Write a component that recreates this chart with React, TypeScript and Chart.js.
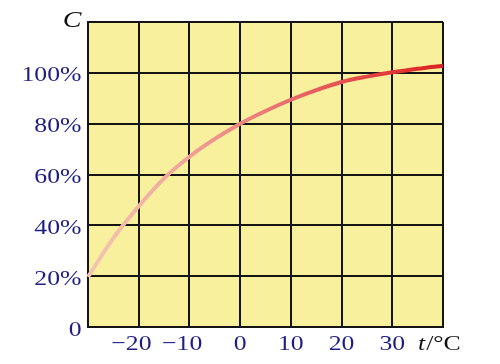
import React, { useEffect, useRef } from 'react';
import { Chart, registerables } from 'chart.js';

Chart.register(...registerables);

// Data
const temperatures = [-30, -25, -20, -15, -10, -5, 0, 5, 10, 15, 20, 25, 30, 35, 40];
const capacity = [19.7, 35, 47.5, 58.5, 67, 74, 80, 85, 89.4, 93.2, 96.4, 98.5, 100.2, 101.6, 102.8];

const tempTicks = [-20, -10, 0, 10, 20, 30];
const tempTickLabels = ['−20', '−10', '0', '10', '20', '30'];
const percentTicks = [0, 20, 40, 60, 80, 100];
const percentTickLabels = ['0', '20%', '40%', '60%', '80%', '100%'];

const yAxisTitle = 'C';
const xAxisTitleItalic = 't';
const xAxisTitleRest = '/°C';

const FONT_FAMILY = '"Liberation Serif", "Times New Roman", serif';
const LABEL_COLOR = '#1d1d84';
const STRETCH = 1.17;

function drawStretched(ctx: CanvasRenderingContext2D, text: string, x: number, y: number, align: 'left' | 'right' | 'center') {
  const w = ctx.measureText(text).width * STRETCH;
  let left = x;
  if (align === 'right') left = x - w;
  else if (align === 'center') left = x - w / 2;
  ctx.save();
  ctx.translate(left, y);
  ctx.scale(STRETCH, 1);
  ctx.textAlign = 'left';
  ctx.fillText(text, 0, 0);
  ctx.restore();
  return w;
}

const plotBackground = {
  id: 'plotBackground',
  beforeDraw(chart: any) {
    const { ctx, chartArea } = chart;
    ctx.save();
    ctx.fillStyle = '#f8f09c';
    ctx.fillRect(chartArea.left, chartArea.top, chartArea.right - chartArea.left, chartArea.bottom - chartArea.top);
    ctx.restore();
  },
};

const axisText = {
  id: 'axisText',
  afterDraw(chart: any) {
    const { ctx, chartArea } = chart;
    const xs = chart.scales.x;
    const ys = chart.scales.y;
    ctx.save();
    ctx.textBaseline = 'alphabetic';
    ctx.font = `22px ${FONT_FAMILY}`;
    ctx.fillStyle = LABEL_COLOR;
    // y tick labels
    percentTicks.forEach((v, i) => {
      const py = ys.getPixelForValue(v);
      drawStretched(ctx, percentTickLabels[i], chartArea.left - 6.5, py + 8.5, 'right');
    });
    // x tick labels: digits centred on the grid line, minus sign hanging left
    tempTicks.forEach((v, i) => {
      const px = xs.getPixelForValue(v);
      const label = tempTickLabels[i];
      const hasMinus = label.startsWith('−');
      const digits = hasMinus ? label.slice(1) : label;
      const dw = ctx.measureText(digits).width * STRETCH;
      const mw = hasMinus ? ctx.measureText('−').width * STRETCH : 0;
      drawStretched(ctx, label, px - dw / 2 - mw, 349.5, 'left');
    });
    // axis titles
    ctx.fillStyle = '#111';
    ctx.font = `italic 24px ${FONT_FAMILY}`;
    drawStretched(ctx, yAxisTitle, 72, 26.5, 'center');
    ctx.font = `italic 22px ${FONT_FAMILY}`;
    const tw = drawStretched(ctx, xAxisTitleItalic, 418, 349.5, 'left');
    ctx.font = `22px ${FONT_FAMILY}`;
    drawStretched(ctx, xAxisTitleRest, 418 + tw + 1, 349.5, 'left');
    ctx.restore();
  },
};

export default function App() {
  const canvasRef = useRef<HTMLCanvasElement | null>(null);

  useEffect(() => {
    const canvas = canvasRef.current;
    if (!canvas) return;
    const chart = new Chart(canvas, {
      type: 'line',
      data: {
        datasets: [
          {
            data: temperatures.map((t, i) => ({ x: t, y: capacity[i] })),
            borderColor: (c: any) => {
              const area = c.chart.chartArea;
              if (!area) return '#e04040';
              const g = c.chart.ctx.createLinearGradient(area.left, 0, area.right, 0);
              g.addColorStop(0, '#f4c6b2');
              g.addColorStop(0.25, '#f0a89c');
              g.addColorStop(0.5, '#ea7878');
              g.addColorStop(0.75, '#e44a4a');
              g.addColorStop(1, '#dd2020');
              return g;
            },
            borderWidth: 4,
            pointRadius: 0,
            cubicInterpolationMode: 'monotone',
            fill: false,
            clip: 2,
          },
        ],
      },
      options: {
        animation: false,
        responsive: false,
        maintainAspectRatio: false,
        layout: { padding: { left: 88, right: 57, top: 22, bottom: 37 } },
        plugins: { legend: { display: false }, tooltip: { enabled: false } },
        scales: {
          x: {
            type: 'linear',
            min: -30,
            max: 40,
            ticks: { display: false, stepSize: 10 },
            grid: { color: '#141414', lineWidth: 2, drawTicks: false },
            border: { color: '#141414', width: 2 },
          },
          y: {
            type: 'linear',
            min: 0,
            max: 120,
            ticks: { display: false, stepSize: 20 },
            grid: { color: '#141414', lineWidth: 2, drawTicks: false },
            border: { color: '#141414', width: 2 },
          },
        },
      },
      plugins: [plotBackground, axisText],
    });
    return () => chart.destroy();
  }, []);

  return (
    <div style={{ position: 'absolute', left: 0, top: 0, width: 500, height: 364, background: '#fff' }}>
      <canvas ref={canvasRef} width={500} height={364} style={{ width: 500, height: 364, display: 'block' }} />
    </div>
  );
}
